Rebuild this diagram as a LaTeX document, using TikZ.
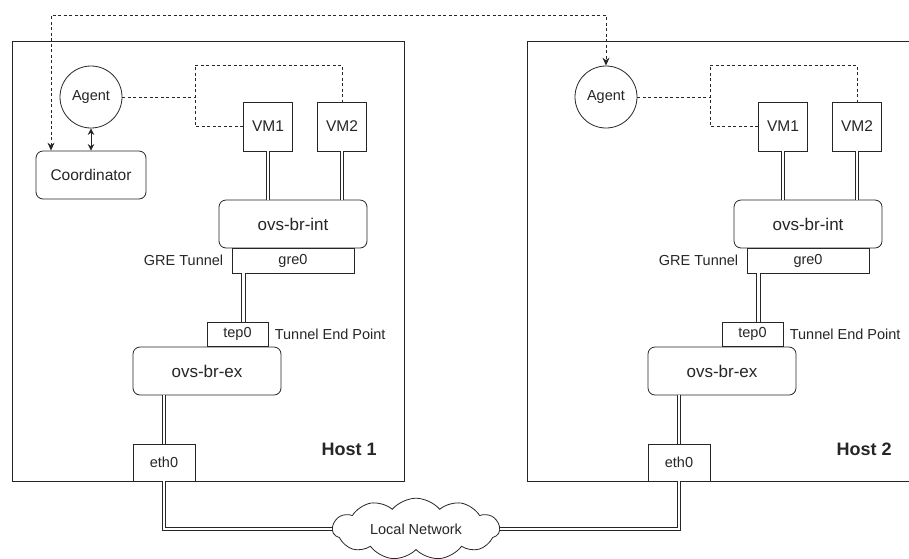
\documentclass[tikz,border=0pt]{standalone}
\usepackage{fontspec}
\setmainfont{Liberation Sans}
\usetikzlibrary{positioning,shapes.symbols,arrows.meta}

\begin{document}
\begin{tikzpicture}[x=1pt,y=-1pt,color=black!85,line width=0.8pt,
    hostbox/.style={draw, rectangle, inner sep=0pt, minimum width=392pt, minimum height=440pt},
    box/.style={draw, fill=white, rectangle, inner sep=0pt, font=\fontsize{15.5}{18}\selectfont},
    vmbox/.style={box, minimum width=49pt, minimum height=49pt},
    agentnode/.style={draw, fill=white, circle, inner sep=0pt, minimum size=62pt, font=\fontsize{14.5}{17}\selectfont},
    bridge/.style={box, rounded corners=7pt, minimum width=148pt, minimum height=48pt, font=\fontsize{17}{20}\selectfont},
    port/.style={box, font=\fontsize{14.5}{17}\selectfont},
    lbl/.style={inner sep=0pt, font=\fontsize{14.5}{17}\selectfont},
    hostlbl/.style={inner sep=0pt, anchor=east, font=\bfseries\fontsize{18}{21}\selectfont},
    link/.style={double, double distance=2.6pt, line width=0.9pt},
    ctrl/.style={dash pattern=on 3pt off 2.5pt},
    arr/.style={arrows={Stealth[length=8pt,width=7pt]-Stealth[length=8pt,width=7pt]}},
    sarr/.style={arrows={Stealth[length=6.5pt,width=6.5pt]-Stealth[length=6.5pt,width=6.5pt]}}]
    \useasboundingbox (0,0) rectangle (909,558);

    % Host 1
    \node[hostbox] (host1) at (208,261) {};
    \node[agentnode] (agent1) at (91,97) {Agent};
    \node[box, rounded corners=7pt, minimum width=110pt, minimum height=48pt] (coord) at (91,175) {Coordinator};
    \node[vmbox] (vm11) at (268,126.5) {VM1};
    \node[vmbox] (vm12) at (342,126.5) {VM2};
    \node[bridge] (brint1) at (293,224) {ovs-br-int};
    \node[port, minimum width=122pt, minimum height=25pt] (gre1) at (293,260.5) {gre0};
    \node[port, minimum width=61pt, minimum height=24pt] (tep1) at (237.5,334) {tep0};
    \node[bridge] (brex1) at (207,371) {ovs-br-ex};
    \node[port, minimum width=62pt, minimum height=37pt] (eth1) at (164,462.5) {eth0};
    \node[lbl, left=8pt of gre1] (gretxt1) {GRE Tunnel};
    \node[lbl, right=6pt of tep1] (teptxt1) {Tunnel End Point};
    \node[hostlbl] (hosttxt1) at (377,449) {Host 1};

    % Host 2
    \node[hostbox] (host2) at (723,261) {};
    \node[agentnode] (agent2) at (606,97) {Agent};
    \node[vmbox] (vm21) at (783,126.5) {VM1};
    \node[vmbox] (vm22) at (857,126.5) {VM2};
    \node[bridge] (brint2) at (808,224) {ovs-br-int};
    \node[port, minimum width=122pt, minimum height=25pt] (gre2) at (808,260.5) {gre0};
    \node[port, minimum width=61pt, minimum height=24pt] (tep2) at (752.5,334) {tep0};
    \node[bridge] (brex2) at (722,371) {ovs-br-ex};
    \node[port, minimum width=62pt, minimum height=37pt] (eth2) at (679,462.5) {eth0};
    \node[lbl, left=8pt of gre2] (gretxt2) {GRE Tunnel};
    \node[lbl, right=6pt of tep2] (teptxt2) {Tunnel End Point};
    \node[hostlbl] (hosttxt2) at (892,449) {Host 2};

    % network
    \node[draw, fill=white, cloud, cloud puffs=11, cloud puff arc=100, aspect=2.8,
          minimum width=167pt, minimum height=60pt, inner sep=0pt,
          font=\fontsize{14.5}{17}\selectfont] (lan) at (416,529) {Local Network};

    % data links
    \draw[link] (vm11.south) -- (vm11.south |- brint1.north);
    \draw[link] (vm12.south) -- (vm12.south |- brint1.north);
    \draw[link] ([xshift=12pt]gre1.south west) -- ([xshift=12pt]gre1.south west |- tep1.north);
    \draw[link] (eth1.north) -- (eth1.north |- brex1.south);
    \draw[link] (eth1.south) |- (lan.west);
    \draw[link] (vm21.south) -- (vm21.south |- brint2.north);
    \draw[link] (vm22.south) -- (vm22.south |- brint2.north);
    \draw[link] ([xshift=12pt]gre2.south west) -- ([xshift=12pt]gre2.south west |- tep2.north);
    \draw[link] (eth2.north) -- (eth2.north |- brex2.south);
    \draw[link] (eth2.south) |- (lan.east);

    % control links
    \coordinate (sw1) at (195,65);
    \coordinate (sw2) at (710,65);
    \coordinate (bus) at (51,15);
    \draw[ctrl] (agent1.east) -- (agent1.east -| sw1);
    \draw[ctrl] (vm11.west) -| (sw1) -| (vm12.north);
    \draw[ctrl] (agent2.east) -- (agent2.east -| sw2);
    \draw[ctrl] (vm21.west) -| (sw2) -| (vm22.north);
    \draw[sarr] (agent1.south) -- (coord.north);
    \draw[ctrl, arr] (bus |- coord.north) -- (bus) -- (bus -| agent2.north) -- (agent2.north);
\end{tikzpicture}
\end{document}
